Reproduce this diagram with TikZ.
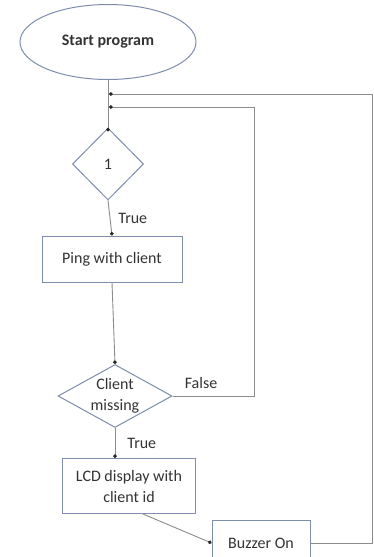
\documentclass[tikz,border=0pt]{standalone}
\usepackage{fontspec}
\setmainfont{Carlito}
\usepackage{tikz}
\usetikzlibrary{shapes,shapes.geometric,arrows.meta}
\definecolor{boxline}{HTML}{7F8DAD}
\definecolor{wire}{HTML}{8C8C8C}
\definecolor{ink}{HTML}{333333}
\tikzstyle{terminal} = [ellipse, draw=boxline, line width=1pt, text=ink, inner sep=0pt]
\tikzstyle{process} = [rectangle, draw=boxline, line width=1pt, text=ink, align=center, inner sep=0pt]
\tikzstyle{decision} = [diamond, draw=boxline, line width=1pt, inner sep=0pt]
\tikzstyle{arrow} = [draw=wire, line width=0.9pt, -{Circle[length=3.6pt,color=black!85]}]
\tikzstyle{lbl} = [text=ink, inner sep=0pt]

\begin{document}
\begin{tikzpicture}[x=1pt, y=-1pt, font=\fontsize{16}{21}\selectfont]
        \useasboundingbox[fill=white] (0,0) rectangle (374,557);

            \node (start) [terminal, minimum width=176, minimum height=75] at (108,42) {\textbf{Start program}};
            \node (one) [decision, minimum width=71, minimum height=72] at (108,164) { };
            \node (onet) [lbl] at (one) {1};
            \node (ping) [process, minimum width=140, minimum height=46] at (112,259) {Ping with client};
            \node (miss) [decision, minimum width=114, minimum height=63] at (115,396) { };
            \node (misst) [lbl, align=center] at (miss) {Client\\missing};
            \node (lcd) [process, minimum width=133, minimum height=55] at (129,486) {LCD display with\\client id};
            \node (buzz) [process, minimum width=98, minimum height=46] at (261,543) {Buzzer On};

            \coordinate (j1) at (109,94);
            \coordinate (j2) at (109,107);
            \coordinate (r1) at (372,94);
            \coordinate (r2) at (254,107);

            \draw [arrow] (start.south) -- ([yshift=-4]one.north);
            \draw [arrow] (one.south) -- (ping.north) node [lbl, pos=0.5, right=8] {True};
            \draw [arrow] (ping.south) -- (miss.north);
            \draw [arrow] (miss.south) -- (miss.south |- lcd.north) node [lbl, pos=0.5, right=12] {True};
            \draw [arrow] ([xshift=14]lcd.south) -- (buzz.west);
            \draw [arrow] (miss.east) -- (miss.east -| r2) -- (r2) -- (j2);
            \draw [arrow] (buzz.east) -- (buzz.east -| r1) -- (r1) -- (j1);
            \node (false) [lbl] at (201,383) {False};

    \end{tikzpicture}
\end{document}
